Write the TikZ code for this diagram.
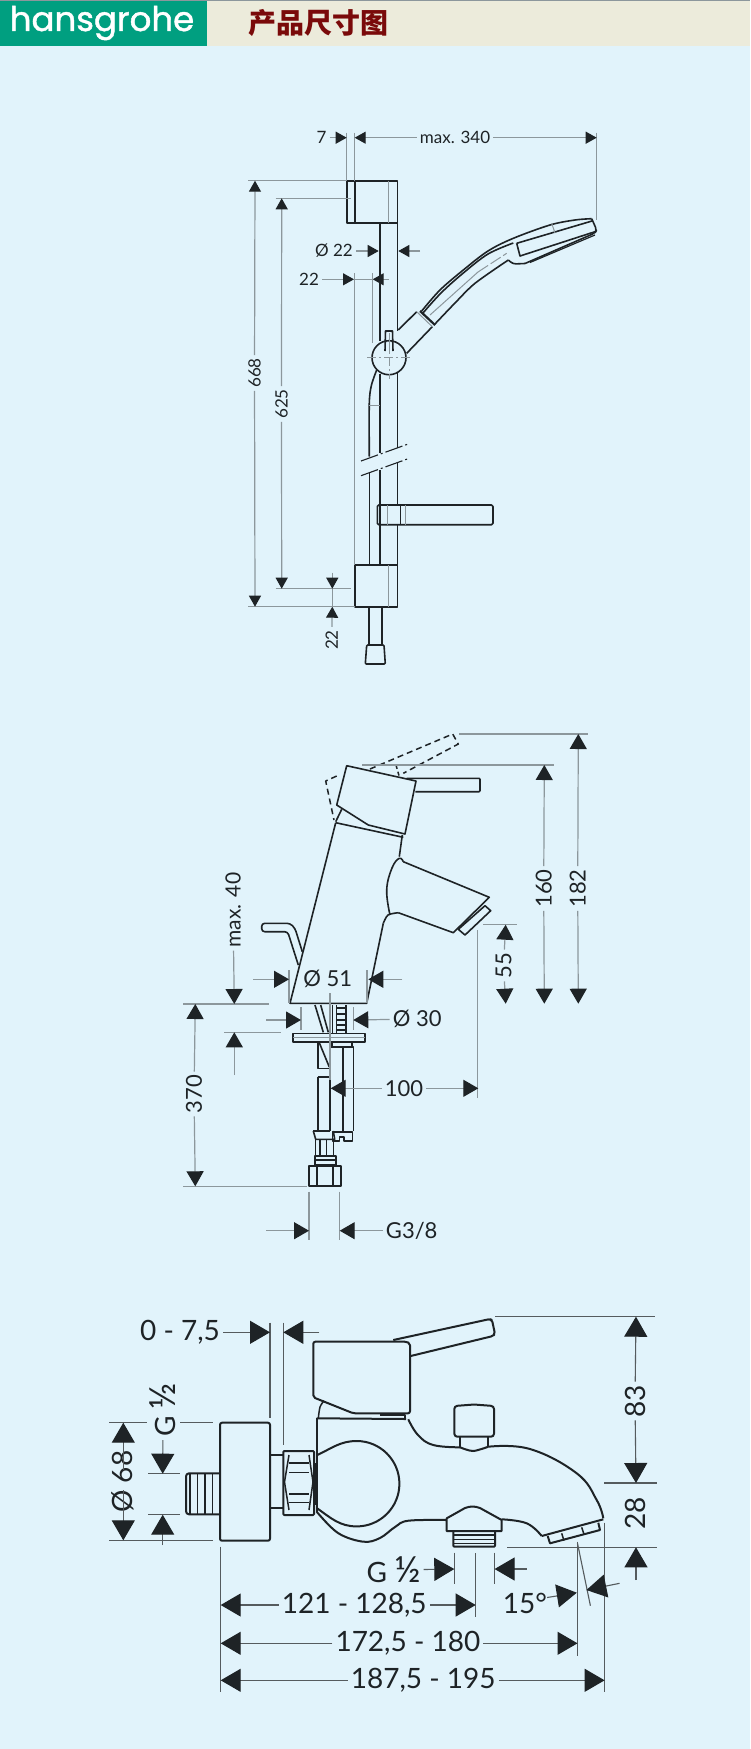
\documentclass[tikz,border=0pt]{standalone}
\usepackage{fontspec}
\setmainfont{Lato}
\newfontfamily\cjk{Noto Sans CJK SC}
\newfontfamily\logofont[FakeBold=1.3]{Poppins}
\usetikzlibrary{arrows.meta}
\definecolor{bgcol}{HTML}{E1F3FB}
\definecolor{creamcol}{HTML}{ECEBDB}
\definecolor{greencol}{HTML}{009F80}
\definecolor{redcol}{HTML}{7A0A0A}
\definecolor{inkcol}{HTML}{1E2326}
\definecolor{dimcol}{HTML}{8C979C}
\definecolor{darkdimcol}{HTML}{555B5E}
\tikzset{
  part/.style={draw=inkcol,line width=1.6pt,line join=round},
  partfine/.style={draw=dimcol,line width=1pt},
  dimline/.style={draw=dimcol,line width=1.2pt},
  darkline/.style={draw=darkdimcol,line width=1.1pt},
  textS/.style={text=inkcol,font=\fontsize{17}{17}\selectfont,inner sep=3pt},
  textM/.style={text=inkcol,font=\fontsize{22}{22}\selectfont,inner sep=3pt},
  textL/.style={text=inkcol,font=\fontsize{28}{28}\selectfont,inner sep=3pt},
}
\begin{document}
\begin{tikzpicture}[x=1pt,y=-1pt]
\fill[bgcol] (0,0) rectangle (750,1749);
% header
\fill[creamcol] (207,1) rectangle (750,46);
\fill[greencol] (0,1) rectangle (207,46);
\fill[dimcol] (0,0) rectangle (750,1);
\node[text=white,font=\logofont\fontsize{34}{34}\selectfont,inner sep=0pt] (logo) at (102,23) {hansgrohe};
\node[text=redcol,font=\cjk\bfseries\fontsize{28}{28}\selectfont,inner sep=0pt] (title) at (318,23) {产品尺寸图};

% shower rail
\begin{scope}[>={Triangle[length=11pt,width=12pt,color=inkcol]}]
\draw[part] (347,180.7) rectangle (397.3,222.7);
\draw[part,line width=2pt] (354.7,180.7)--(354.7,222.7);
\draw[partfine] (388.7,180.7)--(388.7,222.7);
\draw[part] (379.7,222.7)--(379.7,341);
\draw[part] (379.7,374)--(379.7,453);
\draw[part] (379.7,470)--(379.7,565);
\draw[part] (397.3,222.7)--(397.3,331);
\draw[part] (397.3,372)--(397.3,448);
\draw[part] (397.3,463)--(397.3,505);
\draw[part] (397.3,525)--(397.3,565);
% hose
\draw[part] plot[smooth] coordinates {(376.7,370) (371.5,385) (369.3,403) (369.3,456.7)};
\draw[part] (369.3,473.3)--(369.3,565);
\draw[partfine] (369.3,405)--(379.7,405);
% break marks
\draw[part,line width=1.1pt,dash pattern=on 18pt off 3pt on 2pt off 3pt] (361,461)--(407.3,444.3);
\draw[part,line width=1.1pt,dash pattern=on 18pt off 3pt on 2pt off 3pt] (361,475.7)--(407.3,459);
% soap dish
\draw[part,rounded corners=1.5pt] (377.3,505) rectangle (493,524.7);
\draw[part] (400.3,505)--(400.3,524.7);
\draw[partfine] (387.7,505)--(387.7,524.7);
\draw[partfine] (405.7,505)--(405.7,524.7);
% lower bracket and end cap
\draw[part] (355,565) rectangle (397.3,607);
\draw[partfine] (388.7,565)--(388.7,607);
\draw[part] (369,607)--(369,645);
\draw[part] (381.7,607)--(381.7,645);
\draw[part,rounded corners=1pt] (366.7,645)--(384,645)--(385.3,664)--(365.3,664)--cycle;
% swivel
\draw[part] (389,357.7) circle[radius=17pt];
\draw[partfine,dash pattern=on 9pt off 3pt on 2pt off 3pt] (367.3,357.7)--(410,357.7);
\draw[partfine,dash pattern=on 9pt off 3pt on 2pt off 3pt] (389,340)--(389,379.3);
\draw[part] (385,351)--(385.5,331)--(392.5,331)--(393,351);
\draw[partfine] (389,333)--(389,351.7);
\draw[part] (398.3,330)--(416.7,311.7);
\draw[part] (406.7,353.3)--(432.3,326.7);
\draw[partfine] (416.7,311.7)--(432.3,326.7);
\draw[part,line width=2.2pt] (420,311)--(435,325);
% hand shower
\draw[part] plot[smooth,tension=.55] coordinates {(421.7,311) (440,290) (463.3,270) (488,251) (513.3,238.3) (550,225) (575,220) (591.7,218.7)};
\draw[part] plot[smooth,tension=.55] coordinates {(423,313) (441,293) (463.3,273) (488,254) (513.3,243)};
\draw[part,rounded corners=3pt] (591.7,218.7)--(596.7,230)--(595,233)--(525,263.5);
\draw[part] (516.7,243.3)--(592,221);
\draw[part] (516.7,243.3)--(520,256)--(595,231.7);
\draw[part,rounded corners=3pt] (508.3,260)--(513,264)--(525,263.5);
\draw[part,line width=1.2pt] (530,262.5)--(595,235);
\draw[part] plot[smooth,tension=.5] coordinates {(508.3,260) (475,283.3) (455,303) (434,325)};
\draw[partfine] (551.7,223.3)--(555,233);
\draw[partfine] (430,315)--(478,272);
\draw[partfine,dash pattern=on 12pt off 3pt] (478,272)--(506.7,253.3);
% dimensions
\node[textS] (n7) at (321.5,137.7) {7};
\node[textS] (n340) at (455,137.7) {max. 340};
\node[textS] (nd22) at (334,251) {Ø 22};
\node[textS] (n22a) at (309,279.3) {22};
\node[textS,rotate=90] (n668) at (254.5,373) {668};
\node[textS,rotate=90] (n625) at (281.5,404) {625};
\node[textS,rotate=90] (n22b) at (331.7,640) {22};
\coordinate (T340a) at (354.7,137.7);
\coordinate (T340b) at (596.7,137.7);
\coordinate (T668a) at (255,180.7);
\coordinate (T668b) at (255,606.7);
\coordinate (T625a) at (281.7,198.3);
\coordinate (T625b) at (281.7,588.7);
\draw[dimline] (346.7,132.7)--(346.7,180.7);
\draw[dimline] (354.7,132.7)--(354.7,180.7);
\draw[dimline] (596.7,132.7)--(596.7,220);
\draw[dimline] (248.3,180.7)--(347,180.7);
\draw[dimline] (248.3,606.7)--(355,606.7);
\draw[dimline] (275.7,198.3)--(350.7,198.3);
\draw[dimline] (275.7,588.7)--(350.7,588.7);
\draw[dimline] (354.7,273.3)--(354.7,565);
\draw[dimline] (372.7,273.3)--(372.7,343.3);
\draw[dimline,->] (n7)--(346.7,137.7);
\draw[dimline,->] (n340)--(T340a);
\draw[dimline,->] (n340)--(T340b);
\draw[dimline,->] (n668)--(T668a);
\draw[dimline,->] (n668)--(T668b);
\draw[dimline,->] (n625)--(T625a);
\draw[dimline,->] (n625)--(T625b);
\draw[dimline,->] (nd22)--(378.7,251);
\draw[dimline,->] (420,251)--(398.3,251);
\draw[dimline,->] (n22a)--(354,279.3);
\draw[dimline,->] (388.7,279.3)--(372.7,279.3);
\draw[dimline] (354,279.3)--(372.7,279.3);
\draw[dimline,->] (332.3,572.7)--(332.3,588.7);
\draw[dimline,->] (n22b)--(332.3,606.7);
\draw[dimline] (332.3,588.7)--(332.3,606.7);
\end{scope}

% basin mixer
\begin{scope}[>={Triangle[length=15pt,width=17pt,color=inkcol]}]
\draw[part,line width=1.5pt,dash pattern=on 6pt off 4pt] (336.7,776)--(325.7,781)--(334,820);
\draw[part,line width=1.5pt,dash pattern=on 6pt off 4pt] (370,769)--(452.7,734)--(458.3,744)--(403.3,773.3);
\draw[part,line width=1.5pt,dash pattern=on 4pt off 3pt] (396,765)--(399.3,776.7);
\draw[part] (346.7,765.7)--(416,781)--(405,834)--(368.3,825)--(336.7,805)--cycle;
\draw[part,rounded corners=1pt] (406.7,778.3)--(480,778.3)--(480,791.7)--(415.3,791.7);
\draw[part] (341.7,809.3)--(335.7,821.7);
\draw[part] (335.7,822.7)--(403.3,837.3);
\draw[part] (402.3,835)--(399.3,856.7);
\draw[part] (335.7,822.7)--(290,1003.3)--(366.7,1003.3)--(383.3,923.3);
\draw[part] plot[smooth] coordinates {(383.3,923.3) (388,915) (398.3,912.7)};
\draw[part] (398.3,912.7)--(453.3,932.7)--(489.3,897.3)--(403.3,861.7);
\draw[part] plot[smooth,tension=.7] coordinates {(403.3,861.7) (399.3,858.3) (392,868) (386.7,890) (390,915)};
\draw[part] (458.3,929.3)--(485,905.7)--(490.7,910.7)--(465,935)--cycle;
\draw[part,rounded corners=3pt] (298.3,965)--(287.7,931.7)--(261.7,931.7)--(261.7,923.3)--(290,923.3)--(295,928.3)--(302.3,951.7);
% plumbing below the deck
\draw[part] (293,1033.3) rectangle (365,1041.7);
\draw[partfine] (293,1037)--(365,1037);
\draw[part] (315,1005)--(323.3,1032.3);
\draw[part] (320.7,1005)--(328.3,1032.3);
\draw[part] (329.3,1005)--(329.3,1033);
\draw[part] (332.3,1005)--(332.3,1033);
\draw[part] (345.7,1005)--(345.7,1033);
\draw[part,line width=1pt] (336.7,1005)--(336.7,1033);
\foreach \y in {1008,1014,1020,1025,1030}
{
    \draw[part,line width=1.2pt] (336.7,\y)--(345.7,\y);
}
\draw[part] (317.7,1041.7)--(317.7,1068.3)--(329,1068.3);
\draw[part] (319,1042)--(329.3,1067);
\draw[part] (317.7,1076.7)--(329.3,1076.7);
\draw[part] (317.7,1076.7)--(317.7,1131);
\draw[part] (330,1046.7)--(330,1131);
\draw[part] (330,1046.7)--(353.3,1046.7)--(353.3,1131);
\draw[part] (342.7,1046.7)--(342.7,1131);
\draw[part] (332,1041.7)--(332,1046.7);
\draw[part] (352,1041.7)--(352,1046.7);
\draw[part] (332.3,1131.7)--(352.3,1131.7)--(352.3,1141)--(344,1141)--(344,1136.7)--(339.3,1136.7)--(339.3,1141)--(332.3,1141)--cycle;
\draw[part] (313.3,1131)--(330,1131);
\draw[part] (313.3,1131)--(315.7,1139.3)--(334.7,1139.3)--(333.3,1131);
\foreach \x in {315.7,320,326.7,333.3}
{
    \draw[part,line width=1.3pt] (\x,1139.3)--(\x,1156);
}
\draw[part] (314.7,1156) rectangle (335.7,1165);
\draw[part,line width=1.2pt] (314.7,1160)--(335.7,1160);
\draw[part] (309,1166) rectangle (341,1185.7);
\draw[part] (316.7,1166)--(316.7,1185.7);
\draw[part] (332.7,1166)--(332.7,1185.7);
% dimensions
\node[textM,rotate=90] (n182) at (577.7,888.5) {182};
\node[textM,rotate=90] (n160) at (543.7,888.5) {160};
\node[textM,rotate=90] (n55) at (503.5,965.5) {55};
\node[textM] (nd51) at (327.7,979) {Ø 51};
\node[textM] (nd30) at (417.3,1019) {Ø 30};
\node[textM,rotate=90] (n370) at (194,1094) {370};
\node[textM] (n100) at (404,1088.3) {100};
\node[textM] (ng38) at (411.7,1230.7) {G3/8};
\node[textM,font=\fontsize{21}{21}\selectfont,rotate=90] (n40) at (233,910) {max. 40};
\draw[dimline] (459.3,734)--(588.3,734);
\draw[dimline] (362.3,765)--(554,765);
\draw[dimline] (483.3,924.7)--(516.7,924.7);
\draw[dimline] (477.7,930)--(477.7,1097.7);
\draw[dimline] (289,970)--(289,1003);
\draw[dimline] (367,970)--(367,1003);
\draw[dimline] (330,993.3)--(330,1080);
\draw[dimline] (183.3,1004)--(269.3,1004);
\draw[dimline] (224,1032.3)--(281,1032.3);
\draw[dimline] (183.3,1186.3)--(306.7,1186.3);
\draw[dimline] (301,1007.3)--(301,1030);
\draw[dimline] (353.7,1007.3)--(353.7,1030);
\draw[dimline] (309,1191.7)--(309,1240);
\draw[dimline] (339.7,1191.7)--(339.7,1240);
\draw[dimline,->] (n182)--(578.3,734);
\draw[dimline,->] (n182)--(578.3,1003.7);
\draw[dimline,->] (n160)--(544.3,765);
\draw[dimline,->] (n160)--(544.3,1003.7);
\draw[dimline,->] (n55)--(505.7,924.7);
\draw[dimline,->] (n55)--(505.7,1003.7);
\draw[dimline,->] (253.3,979.3)--(289,979.3);
\draw[dimline,->] (402.3,979.3)--(368.3,979.3);
\draw[dimline,->] (n40)--(234.3,1004);
\draw[dimline,->] (234.3,1075)--(234.3,1032.3);
\draw[dimline,->] (266,1020)--(301,1020);
\draw[dimline,->] (nd30)--(353.3,1020);
\draw[dimline,->] (n370)--(195.3,1004);
\draw[dimline,->] (n370)--(195.3,1186.3);
\draw[dimline,->] (n100)--(330.7,1088.3);
\draw[dimline,->] (n100)--(478.3,1088.3);
\draw[dimline,->] (266,1230.7)--(309,1230.7);
\draw[dimline,->] (ng38)--(339.7,1230.7);
\end{scope}

% bath mixer
\begin{scope}[>={Triangle[length=20pt,width=23pt,color=inkcol]}]
\draw[part,line width=2pt,rounded corners=2pt] (220,1422.7)--(270,1422.7)--(270,1540.7)--(220,1540.7)--cycle;
\draw[part,line width=2pt,rounded corners=3pt] (220,1473.3)--(186,1473.3)--(186,1514.3)--(220,1514.3);
\foreach \x in {190,197.7,205,212.7}
{
    \draw[part,line width=1.5pt] (\x,1473.3)--(\x,1514.3);
}
\draw[part,line width=2pt] (270,1455)--(283.3,1455);
\draw[part,line width=2pt] (270,1507.7)--(283.3,1507.7);
\draw[part,line width=2pt,rounded corners=1pt] (283.3,1451) rectangle (314,1515);
\draw[part,line width=1.5pt] (289,1455)--(284.5,1482)--(289,1510);
\draw[part,line width=1.5pt] (309,1455)--(313,1482)--(309,1510);
\foreach \y in {1463,1472.7,1494,1502.7}
{
    \draw[part,line width=1.5pt] (289,\y)--(309,\y);
}
\fill[inkcol] (313,1463) rectangle (317,1505);
\draw[part,line width=2pt,rounded corners=2pt] (410,1413.3)--(410,1343.3)--(406.7,1341.7)--(313.3,1341.7)--(313.3,1397.3)--(353.3,1413.3)--cycle;
\draw[part,line width=2pt,rounded corners=2pt] (393.3,1340)--(490,1319)--(492,1320)--(495,1334)--(493,1336)--(410.7,1356);
\draw[part,line width=2pt] (316.7,1418.3)--(406,1419);
\draw[part,line width=1.3pt] (380,1415)--(405,1415)--(405,1419);
\draw[part,line width=1.5pt] plot[smooth] coordinates {(318.3,1418.3) (320,1407) (324,1400.7)};
\draw[part,line width=2pt] (316.7,1418.3)--(316.7,1511.7);
\draw[part,line width=2pt] (317.3,1455) to[out=25,in=180] (356.7,1441) arc[start angle=90,end angle=-90,radius=42.7pt] to[out=180,in=-35] (316.7,1508);
\draw[part,line width=2pt] plot[smooth,tension=.6] coordinates {(316.7,1511.7) (338,1533) (363.3,1541.7) (380,1538) (395,1527) (408.3,1520.7) (446.7,1520)};
\draw[part,line width=2pt] plot[smooth,tension=.7] coordinates {(408.3,1419.3) (418,1435) (433.3,1445) (460,1447.3)};
\draw[part,line width=2pt,rounded corners=3pt] (454.3,1436.7)--(454.3,1406)--(474,1404.5)--(494,1406)--(494,1436.7)--cycle;
\draw[part,line width=2pt] (460,1436.7)--(460,1447.3);
\draw[part,line width=2pt] (488.3,1436.7)--(488.3,1446.7);
\draw[part,line width=2pt] plot[smooth] coordinates {(460,1447.3) (473,1451) (488.3,1446.7)};
\draw[part,line width=2pt] plot[smooth,tension=.7] coordinates {(488.3,1446.7) (530,1449) (576.7,1473.3) (596.7,1500) (603.3,1518.3)};
\draw[part,line width=2pt] (603.3,1519.3)--(541.7,1536);
\draw[part,line width=2pt] (598.3,1522.7)--(600,1530)--(550,1543.3)--(547.7,1536);
\draw[part,line width=1.5pt] (561.7,1533.3)--(564,1540.7);
\draw[part,line width=1.5pt] (581.7,1527.3)--(584,1534.3);
\draw[part,line width=2pt] plot[smooth,tension=.7] coordinates {(541.7,1536) (526.7,1523.3) (501.7,1519.3)};
\draw[part,line width=2pt] (446.7,1531)--(446.7,1518.3)--(465,1508) to[out=20,in=160] (480,1508)--(501.7,1520)--(501.7,1531)--cycle;
\draw[part,line width=2pt,rounded corners=1pt] (453.3,1531)--(453.3,1546.7)--(495,1546.7)--(495,1531);
\foreach \y in {1535,1539.3,1543.3}
{
    \draw[part,line width=1.3pt] (453.3,\y)--(495,\y);
}
% dimensions
\node[textL] (n075) at (180,1332.3) {0 - 7,5};
\node[textL,rotate=90] (ng12a) at (163,1410) {G \fontsize{36}{36}\selectfont ½};
\node[textL,rotate=90] (nd68) at (122.3,1481.7) {Ø 68};
\node[textL,rotate=90] (n83) at (635,1401) {83};
\node[textL,rotate=90] (n28) at (635.7,1513.3) {28};
\node[textL] (ng12b) at (393.6,1570) {G \fontsize{36}{36}\selectfont ½};
\node[textL] (n121) at (354.3,1605) {121 - 128,5};
\node[textL] (n172) at (407.9,1643.3) {172,5 - 180};
\node[textL] (n187) at (423.2,1680.3) {187,5 - 195};
\node[textL] (n15) at (525,1603.3) {15°};
\draw[darkline] (270,1322.7)--(270,1418.3);
\draw[darkline] (283.3,1322.7)--(283.3,1445);
\draw[darkline] (109,1422.7)--(147.3,1422.7);
\draw[darkline] (180,1422.7)--(213.3,1422.7);
\draw[darkline] (109,1540.3)--(213.3,1540.3);
\draw[darkline] (148.3,1473.7)--(180,1473.7);
\draw[darkline] (148.3,1514.7)--(180,1514.7);
\draw[darkline] (220.7,1546.7)--(220.7,1692.3);
\draw[darkline] (454.3,1552.7)--(454.3,1584.3);
\draw[darkline] (494.6,1552.7)--(494.6,1584.3);
\draw[darkline] (475.7,1553)--(475.7,1617.3);
\draw[darkline] (577.5,1541.7)--(577.5,1656);
\draw[darkline] (604.6,1522.7)--(604.6,1692.3);
\draw[darkline] (577.5,1543.3)--(590.4,1605.7);
\draw[darkline] (495,1316.7)--(655,1316.7);
\draw[darkline] (604.3,1483)--(656.7,1483);
\draw[darkline] (507.3,1547.3)--(656.7,1547.3);
\draw[darkline,->] (n075)--(270,1332.3);
\draw[darkline,->] (319.3,1332.3)--(283.3,1332.3);
\draw[darkline,->] (123.3,1470)--(123.3,1422.7);
\draw[darkline,->] (123.3,1490)--(123.3,1540.3);
\draw[darkline,->] (ng12a)--(162.7,1473.7);
\draw[darkline,->] (162.7,1545)--(162.7,1514.7);
\draw[darkline,->] (n83)--(636,1316.7);
\draw[darkline,->] (n83)--(636,1483);
\draw[darkline,->] (636,1580)--(636,1547.3);
\draw[darkline,->] (ng12b)--(454.3,1569);
\draw[darkline,->] (526.8,1569)--(494.6,1569);
\draw[darkline,->] (n121)--(220.7,1605);
\draw[darkline,->] (n121)--(475.7,1605);
\draw[darkline,->] (n172)--(220.7,1643.3);
\draw[darkline,->] (n172)--(577.5,1643.3);
\draw[darkline,->] (n187)--(220.7,1680.3);
\draw[darkline,->] (n187)--(604.6,1680.3);
\draw[darkline,->] (547.1,1597.5)--(576.8,1592.7);
\draw[darkline,->] (619.6,1583.3)--(586.4,1590);
\end{scope}
\end{tikzpicture}
\end{document}
